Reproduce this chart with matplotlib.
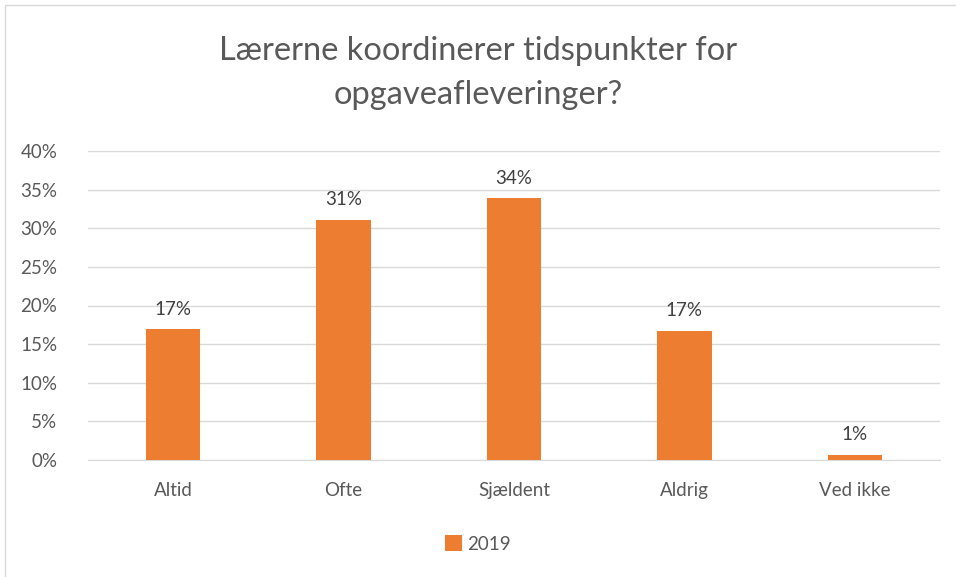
import matplotlib
matplotlib.use("Agg")
import matplotlib.pyplot as plt
from matplotlib.patches import Rectangle
from matplotlib.ticker import PercentFormatter

categories = ["Altid", "Ofte", "Sjældent", "Aldrig", "Ved ikke"]
values_2019 = [16.9, 31.1, 33.9, 16.7, 0.7]
labels_2019 = ["17%", "31%", "34%", "17%", "1%"]
series_name = "2019"
title = "Lærerne koordinerer tidspunkter for\nopgaveafleveringer?"

plt.rcParams['font.family'] = ['Lato', 'DejaVu Sans']
W, H = 956, 577
fig = plt.figure(figsize=(W / 100, H / 100), dpi=100)
fig.patch.set_facecolor("white")

# chart border
fig.patches.append(Rectangle((5 / W, -0.1), 1.2, 1 - 5 / H + 0.1, transform=fig.transFigure,
                             fill=False, edgecolor="#D9D9D9", linewidth=1))

ax = fig.add_axes([88 / W, 1 - 460 / H, (940 - 88) / W, (460 - 151) / H])
x = range(len(categories))
bars = ax.bar(x, values_2019, width=0.32, color="#ED7D31", label=series_name, zorder=3)
for b, lab in zip(bars, labels_2019):
    ax.text(b.get_x() + b.get_width() / 2, b.get_height() + 1.5, lab,
            ha="center", va="bottom", fontsize=13.5, color="#404040")

ax.set_xlim(-0.5, len(categories) - 0.5)
ax.set_ylim(0, 40)
ax.set_yticks(range(0, 41, 5))
ax.yaxis.set_major_formatter(PercentFormatter(decimals=0))
ax.set_xticks(list(x))
ax.set_xticklabels(categories)
ax.tick_params(axis="both", length=0, labelsize=13.5, labelcolor="#595959")
ax.tick_params(axis="y", pad=22)
ax.tick_params(axis="x", pad=16)
ax.grid(axis="y", color="#D9D9D9", linewidth=1, zorder=0)
for s in ["top", "right", "left"]:
    ax.spines[s].set_visible(False)
ax.spines["bottom"].set_color("#D9D9D9")

fig.text(0.5, 1 - 73 / H, title, ha="center", va="center", fontsize=23.5,
         color="#595959", linespacing=1.55)

fig.legend(handles=[bars], labels=[series_name], loc="center", bbox_to_anchor=(0.5, 1 - 544 / H),
           frameon=False, fontsize=13.5, labelcolor="#595959", handlelength=0.9, handleheight=0.9,
           handletextpad=0.3)

fig.savefig("out.png", dpi=100, facecolor="white")
